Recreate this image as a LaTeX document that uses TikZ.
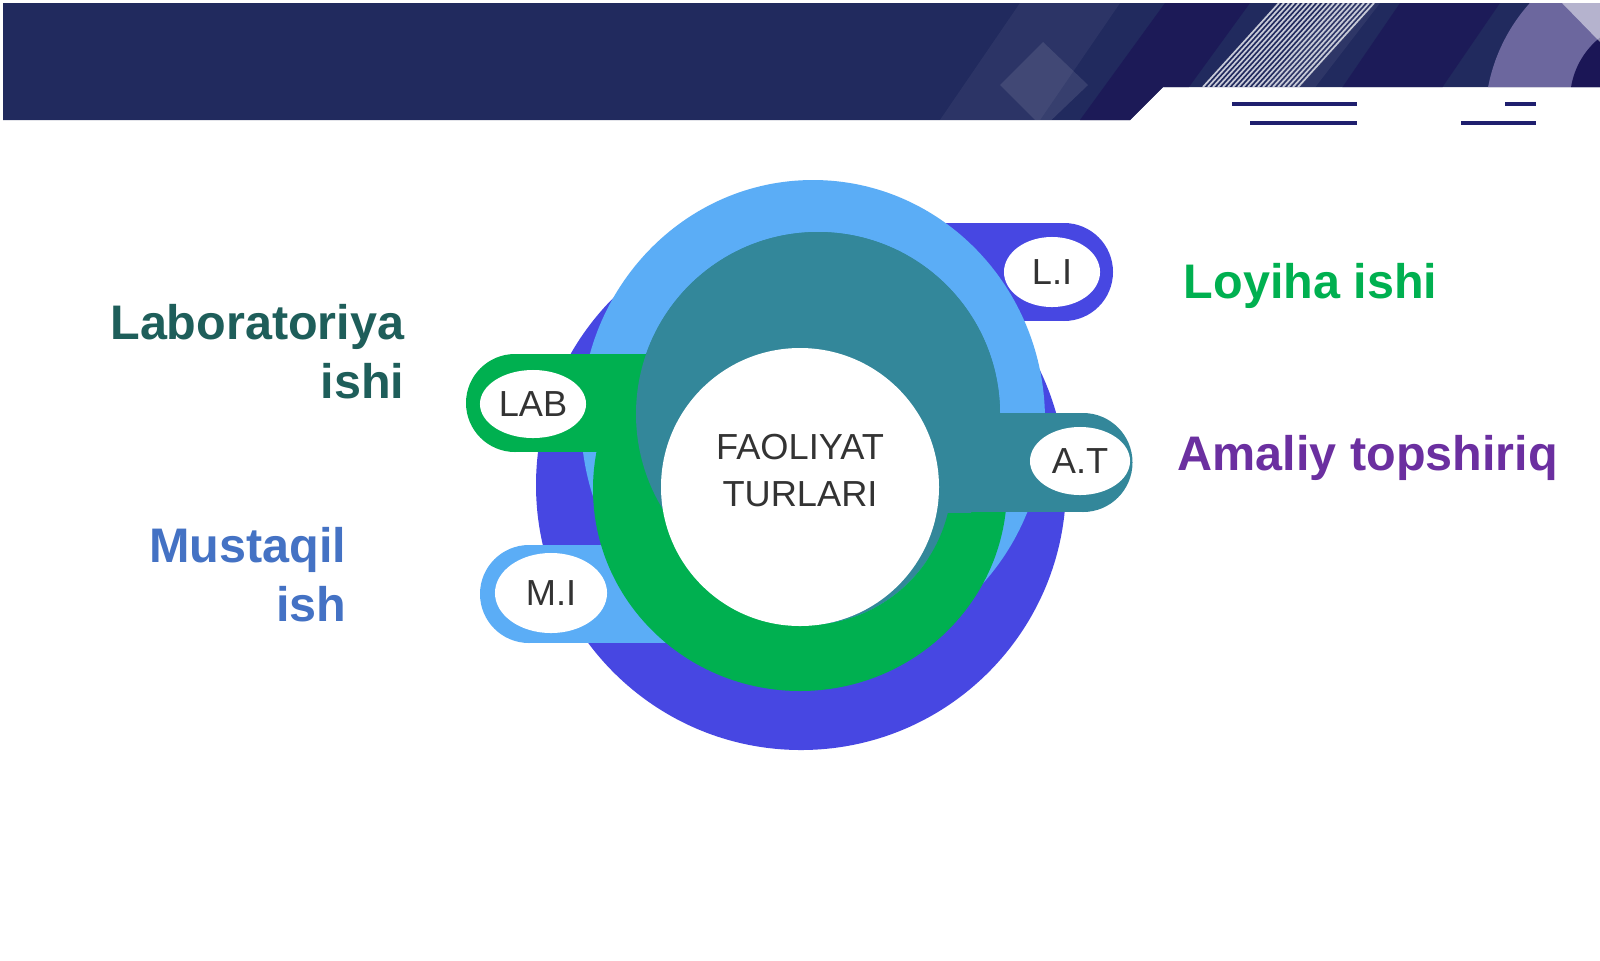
\documentclass[tikz,border=0pt]{standalone}
\usepackage{fontspec}
\setmainfont{Liberation Sans}
\usetikzlibrary{shapes.geometric}

\definecolor{bandnavy}{HTML}{212A5E}
\definecolor{banddark}{HTML}{1B1656}
\definecolor{bandlav}{HTML}{6C679E}
\definecolor{barnavy}{HTML}{1F1F6E}
\definecolor{ringblue}{HTML}{4747E2}
\definecolor{ringsky}{HTML}{5BADF6}
\definecolor{ringteal}{HTML}{33879A}
\definecolor{ringgreen}{HTML}{00B050}
\definecolor{labteal}{HTML}{1E5E5A}
\definecolor{miblue}{HTML}{4472C4}
\definecolor{atpurple}{HTML}{6B2FA0}
\definecolor{txtgray}{HTML}{333333}

\begin{document}
\begin{tikzpicture}[x=0.01cm,y=-0.01cm,
  tagoval/.style={ellipse,fill=white,inner sep=0pt,minimum width=10.6mm,
    minimum height=6.8mm,text=txtgray,font=\fontsize{10.3}{12}\selectfont},
  sidelabel/.style={inner sep=0pt,font=\fontsize{13.8}{16.8}\bfseries\selectfont}]
\useasboundingbox (0,0) rectangle (1600,960);
\fill[white] (0,0) rectangle (1600,960);

\coordinate (BlueC) at (801,485);
\coordinate (SkyC) at (813,420);
\coordinate (TealC) at (818,414);
\coordinate (GreenC) at (800,489);
\coordinate (HoleC) at (806,478);
\coordinate (Mid) at (800,487);

% The banner
\fill[bandnavy] (3,3) -- (1600,3) -- (1600,87) -- (1163,87) -- (1130,120) -- (3,120) -- cycle;
\begin{scope}
\clip (3,3) -- (1600,3) -- (1600,87) -- (1163,87) -- (1130,120) -- (3,120) -- cycle;
\fill[white,opacity=0.05] (940,120) -- (1020,3) -- (1120,3) -- (1040,120) -- cycle;
\fill[white,opacity=0.1] (1000,85) -- (1043,42) -- (1088,85) -- (1043,128) -- cycle;
\fill[banddark,opacity=0.8] (1080,120) -- (1165,3) -- (1250,3) -- (1165,120) -- cycle;
\fill[banddark,opacity=0.7] (1320,120) -- (1400,3) -- (1500,3) -- (1420,120) -- cycle;
\fill[white,opacity=0.06] (1240,120) -- (1330,3) -- (1380,3) -- (1290,120) -- cycle;
\foreach \k in {0,...,19}
  \draw[white!75!bandnavy,line width=0.5pt] ({1203+5*\k},87) -- ++(76,-84);
\fill[bandlav] (1660,120) circle (175);
\fill[banddark] (1650,100) circle (80);
\fill[white,opacity=0.5] (1562,3) -- (1600,3) -- (1600,42) -- cycle;
\end{scope}

% The bars
\foreach \xa/\xb/\yy in {1232/1357/104,1250/1357/123,1505/1536/104,1461/1536/123}
  \draw[barnavy,line width=1.2pt] (\xa,\yy) -- (\xb,\yy);

% The rings
\fill[ringblue] (BlueC) circle (265);
\fill[ringblue] (900,223) rectangle (1064,321);
\fill[ringblue] (1064,272) circle (49);
\fill[ringsky] (SkyC) ellipse [x radius=232,y radius=240];
\fill[ringsky] (529,545) rectangle (720,643);
\fill[ringsky] (529,594) circle (49);
\fill[ringteal] (TealC) circle (182);
\fill[ringteal] (HoleC) ellipse [x radius=146,y radius=147];
\fill[ringgreen,even odd rule] (GreenC) ellipse [x radius=207,y radius=202]
  (HoleC) ellipse [x radius=146,y radius=147];
\fill[ringgreen] (515,354) rectangle (680,452);
\fill[ringgreen] (515,403) circle (49);
\begin{scope}
\clip (500,150) rectangle (1200,512);
\fill[ringteal] (TealC) circle (182);
\end{scope}
\fill[ringteal] (900,413) rectangle (1083,512);
\fill[ringteal] (1083,462.5) circle (49.5);
\fill[white] (Mid) circle (139);

% The tags
\node[tagoval] (lab) at (533,404) {LAB};
\node[tagoval,minimum width=9.6mm,minimum height=7mm] (li) at (1052,272) {L.I};
\node[tagoval,minimum width=10mm,minimum height=6.8mm] (at) at (1080,461) {A.T};
\node[tagoval,minimum width=11.2mm,minimum height=8mm] (mi) at (551,593) {M.I};
\node[align=center,text=txtgray,inner sep=0pt,anchor=north,
  font=\fontsize{10.3}{13.4}\selectfont] (core) at (800,433) {FAOLIYAT\\TURLARI};

% The labels
\node[sidelabel,text=labteal,anchor=north east,align=right] (labtxt) at (405,304) {Laboratoriya\\ishi};
\node[sidelabel,text=miblue,anchor=north east,align=right] (mitxt) at (347,527) {Mustaqil\\ish};
\node[sidelabel,text=ringgreen,anchor=base west] (litxt) at (1183,298) {Loyiha ishi};
\node[sidelabel,text=atpurple,anchor=base west] (attxt) at (1177,470) {Amaliy topshiriq};
\end{tikzpicture}
\end{document}
